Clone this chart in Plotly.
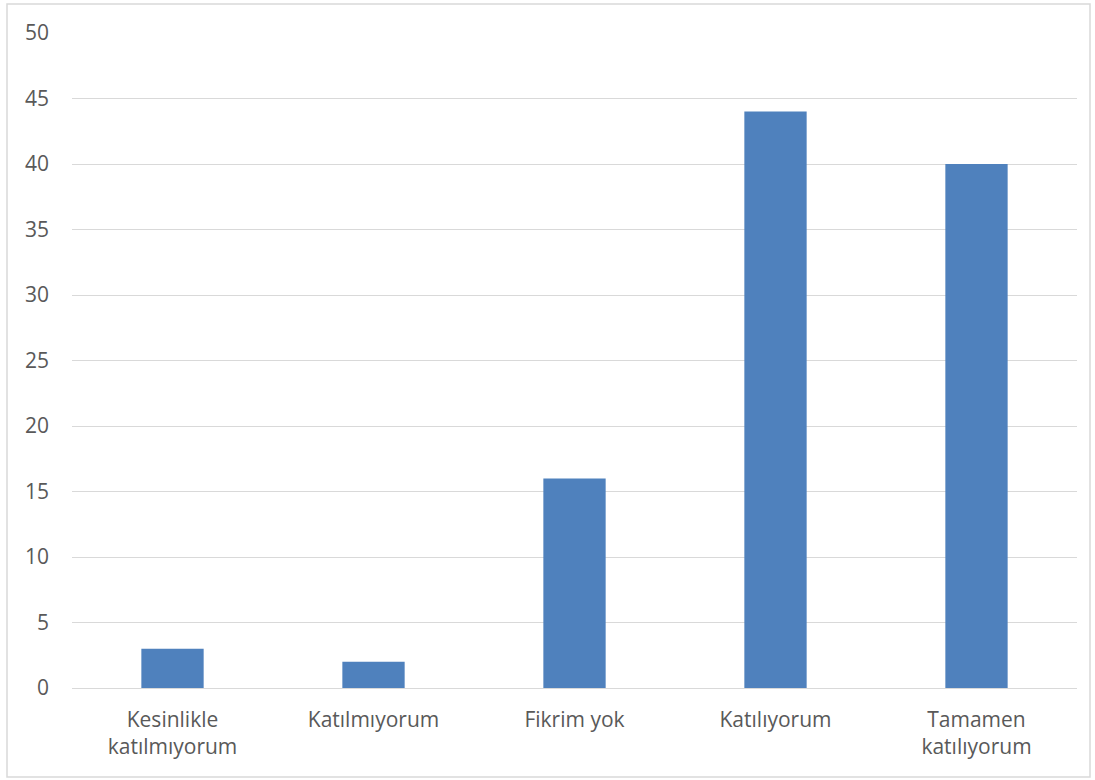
import plotly.graph_objects as go

categories = ["Kesinlikle<br>katılmıyorum", "Katılmıyorum", "Fikrim yok", "Katılıyorum", "Tamamen<br>katılıyorum"]
values = [3, 2, 16, 44, 40]
y_ticks = [0, 5, 10, 15, 20, 25, 30, 35, 40, 45, 50]

W, H = 1095, 780
L, R, T, B = 72, 18, 33, 92
pw, ph = W - L - R, H - T - B

fig = go.Figure(go.Bar(x=categories, y=values, marker_color="#4F81BD", marker_line_width=0))

font = dict(family="Open Sans, Lato, sans-serif", size=21, color="#595959")
fig.update_layout(
    width=W, height=H,
    margin=dict(l=L, r=R, t=T, b=B, pad=0),
    paper_bgcolor="white", plot_bgcolor="white",
    bargap=0.69,
    font=font,
    showlegend=False,
    xaxis=dict(showgrid=False, showline=False, zeroline=False, ticks="", ticklabelstandoff=17,
               tickfont=font),
    yaxis=dict(range=[0, 50], tickvals=y_ticks, showgrid=True, gridcolor="#d9d9d9", gridwidth=1,
               zeroline=True, zerolinecolor="#d9d9d9", zerolinewidth=1, showline=False,
               ticks="", ticklabelstandoff=22, tickfont=font),
    shapes=[dict(type="rect", xref="paper", yref="paper",
                 x0=(7 - L) / pw, x1=(1090 - L) / pw,
                 y0=(H - B - 777) / ph, y1=(H - B - 4) / ph,
                 line=dict(color="#d9d9d9", width=1.5), fillcolor="rgba(0,0,0,0)", layer="below")],
)
fig.write_html("out.html")
